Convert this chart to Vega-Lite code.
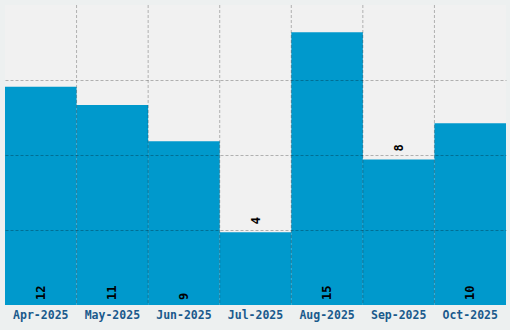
{
  "$schema": "https://vega.github.io/schema/vega-lite/v6.json",
  "width": 501,
  "height": 300,
  "autosize": {"type": "none"},
  "padding": {"left": 5, "top": 5, "right": 4, "bottom": 25},
  "background": "#edf0f0",
  "config": {"view": {"fill": "#f1f1f1", "stroke": null}, "font": "DejaVu Sans Mono"},
  "data": {
    "values": [
      {"month": "Apr-2025", "value": 12},
      {"month": "May-2025", "value": 11},
      {"month": "Jun-2025", "value": 9},
      {"month": "Jul-2025", "value": 4},
      {"month": "Aug-2025", "value": 15},
      {"month": "Sep-2025", "value": 8},
      {"month": "Oct-2025", "value": 10}
    ]
  },
  "encoding": {
    "x": {
      "field": "month",
      "type": "ordinal",
      "sort": null,
      "scale": {"paddingInner": 0, "paddingOuter": 0},
      "axis": {
        "title": null,
        "grid": false,
        "domain": false,
        "ticks": false,
        "labelAngle": 0,
        "labelFont": "DejaVu Sans Mono",
        "labelFontWeight": "bold",
        "labelFontSize": 11.5,
        "labelColor": "#1a5a8c",
        "labelPadding": 4
      }
    }
  },
  "layer": [
    {
      "mark": {"type": "bar", "color": "#0099cc"},
      "encoding": {
        "y": {
          "field": "value",
          "type": "quantitative",
          "scale": {"domain": [0, 16.5], "nice": false},
          "axis": {
            "values": [4.125, 8.25, 12.375],
            "labels": false,
            "ticks": false,
            "domain": false,
            "title": null,
            "grid": true,
            "gridDash": [3, 2],
            "gridColor": "#000000",
            "gridOpacity": 0.27,
            "zindex": 1
          }
        }
      }
    },
    {
      "transform": [{"filter": "datum.month != 'Apr-2025'"}],
      "mark": {"type": "rule", "color": "#000000", "opacity": 0.27, "strokeDash": [3, 2], "strokeWidth": 1},
      "encoding": {
        "x": {"field": "month", "type": "ordinal", "sort": null, "bandPosition": 0}
      }
    },
    {
      "transform": [{"filter": "datum.value != 4 && datum.value != 8"}],
      "mark": {"type": "text", "angle": 270, "align": "left", "baseline": "middle", "dx": 5, "fontWeight": "bold", "fontSize": 12, "color": "#000000"},
      "encoding": {
        "text": {"field": "value", "type": "quantitative"},
        "y": {"datum": 0, "type": "quantitative"}
      }
    },
    {
      "transform": [{"filter": "datum.value == 4 || datum.value == 8"}],
      "mark": {"type": "text", "angle": 270, "align": "left", "baseline": "middle", "dx": 8, "fontWeight": "bold", "fontSize": 12, "color": "#000000"},
      "encoding": {
        "text": {"field": "value", "type": "quantitative"},
        "y": {"field": "value", "type": "quantitative"}
      }
    }
  ]
}
